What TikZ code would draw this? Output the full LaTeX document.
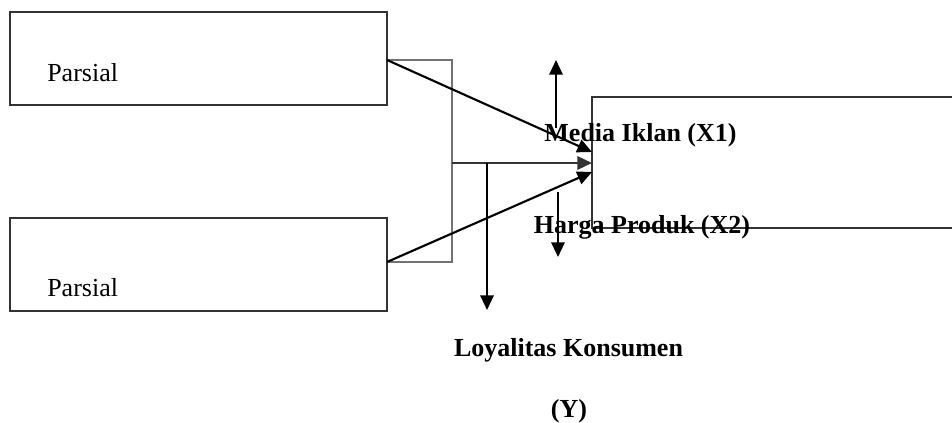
\documentclass[tikz,border=0pt]{standalone}
\usepackage{fontspec}
\setmainfont{Liberation Serif}
\usetikzlibrary{arrows.meta}
\begin{document}
\begin{tikzpicture}[x=0.75pt,y=-0.75pt,
 box/.style={draw=black!80,line width=1.6pt,rectangle,inner sep=0pt},
 thinline/.style={draw=black!55,line width=0.9pt},
 barline/.style={draw=black!80,line width=1.8pt},
 arr/.style={draw=black,line width=1.6pt,-{Triangle[length=11pt,width=10pt]}},
 lbl/.style={font=\fontsize{19.5}{23}\selectfont\bfseries,inner sep=0pt,anchor=base},
 ptxt/.style={font=\fontsize{19.5}{23}\selectfont,inner sep=0pt,anchor=base west}]
\useasboundingbox (0,0) rectangle (952,423);
\clip (0,0) rectangle (952,423);
% boxes
\node[box,minimum width=282.75pt,minimum height=69.75pt] (topbox) at (198.5,58.5) {};
\node[box,minimum width=282.75pt,minimum height=69.75pt] (botbox) at (198.5,264.5) {};
\node[box,minimum width=283.5pt,minimum height=98.25pt] (rightbox) at (781,162.5) {};
\node[ptxt] (p1) at (47,82) {Parsial};
\node[ptxt] (p2) at (47,297) {Parsial};
% anchor coordinates
\coordinate (ta) at (387,60);
\coordinate (ba) at (387,262);
\coordinate (bt) at (452,60);
\coordinate (bb) at (452,262);
\coordinate (bm) at (452,163);
\coordinate (jn) at (487,163);
\coordinate (dn) at (487,310);
\coordinate (e1) at (592,152);
\coordinate (e2) at (592,163);
\coordinate (e3) at (592,172);
\coordinate (u1) at (556,128);
\coordinate (u2) at (556,60);
\coordinate (d1) at (558,192);
\coordinate (d2) at (558,257);
% bracket
\draw[thinline] (ta) -- (bt) -- (bb) -- (ba);
% connectors
\draw[arr] (ta) -- (e1);
\draw[arr] (ba) -- (e3);
\draw[barline,-{Triangle[length=11pt,width=10pt]}] (bm) -- (e2);
\draw[arr] (jn) -- (dn);
\draw[arr] (u1) -- (u2);
\draw[arr] (d1) -- (d2);
% labels
\node[lbl] (x1) at (640.5,142) {Media Iklan (X1)};
\node[lbl] (x2) at (642,234) {Harga Produk (X2)};
\node[lbl] (y1) at (568.5,357) {Loyalitas Konsumen};
\node[lbl] (y2) at (569,417) {(Y)};
\end{tikzpicture}
\end{document}
